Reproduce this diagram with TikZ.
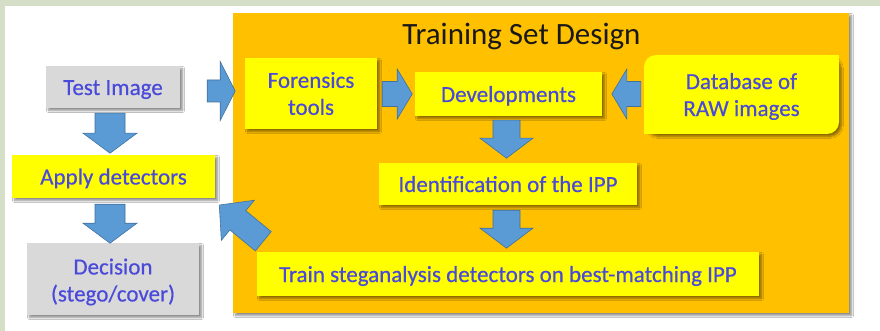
\documentclass[tikz,border=0pt]{standalone}
\usepackage{fontspec}
\setmainfont{Carlito}
\newfontfamily\labelfont[FakeBold=0.5]{Carlito}
\usetikzlibrary{shadows.blur,calc}

\definecolor{framegreen}{RGB}{213,223,200}
\definecolor{panelorange}{RGB}{255,192,0}
\definecolor{boxyellow}{RGB}{255,255,0}
\definecolor{boxgray}{RGB}{217,217,217}
\definecolor{labelblue}{RGB}{74,74,218}
\definecolor{arrowfill}{RGB}{91,155,213}
\definecolor{arrowedge}{RGB}{65,113,156}

\begin{document}
\begin{tikzpicture}[x=1pt,y=-1pt,
  softshadow/.style={blur shadow={shadow xshift=2.5pt,shadow yshift=-2.5pt,
      shadow blur radius=2pt,shadow blur steps=6,shadow opacity=45}},
  labeltext/.style={text=labelblue,font=\labelfont\fontsize{23}{27}\selectfont,
      align=center,inner sep=0pt},
  stepbox/.style={fill=boxyellow,softshadow,labeltext},
  oneline/.style={text height=16pt,text depth=0pt},
  graybox/.style={stepbox,fill=boxgray},
  titletext/.style={font=\fontsize{31}{36}\selectfont,inner sep=0pt},
  % block arrow along the local x axis: length / shaft width / head width / head length
  pics/blockarrow/.style args={#1/#2/#3/#4}{code={
      \filldraw[fill=arrowfill,draw=arrowedge,line width=0.6pt,line join=miter]
        (0,-#2/2) -- ({#1-#4},-#2/2) -- ({#1-#4},-#3/2) -- (#1,0)
        -- ({#1-#4},#3/2) -- ({#1-#4},#2/2) -- (0,#2/2) -- cycle;}}
]
% outer frame and white sheet
\fill[framegreen] (0,0) rectangle (880,331);
\fill[white] (5,6) rectangle (880,331);
\useasboundingbox (0,0) rectangle (880,331);

% training set design panel
\node[fill=panelorange,softshadow,minimum width=616pt,minimum height=300pt,inner sep=0pt]
  (design) at (541,163) {};
\node[titletext,text=black!90] (title) at (521.5,37) {Training Set Design};

% boxes
\node[graybox,oneline,minimum width=134pt,minimum height=42pt] (test) at (113,87) {Test Image};
\node[stepbox,oneline,minimum width=203pt,minimum height=43pt] (apply) at (113.5,176.5) {Apply detectors};
\node[graybox,minimum width=172pt,minimum height=72pt] (decision) at (113,279) {};
\node[labeltext] at ($(decision.center)+(0,3)$) {Decision\\(stego/cover)};
\node[stepbox,minimum width=132pt,minimum height=71pt] (forensics) at (311,93.5) {Forensics\\tools};
\node[stepbox,oneline,minimum width=187pt,minimum height=44pt] (dev) at (508.5,94) {Developments};
\node[stepbox,rounded corners=12pt,minimum width=195pt,minimum height=79pt] (db) at (741.5,94.5) {};
\fill[boxyellow] (db.north east) rectangle +(-12,12);
\fill[boxyellow] (db.south west) rectangle +(12,-12);
\node[labeltext] at ($(db.center)+(0,2)$) {Database of\\RAW images};
\node[stepbox,oneline,minimum width=258pt,minimum height=42pt] (ident) at (508,184) {Identification of the IPP};
\node[stepbox,oneline,minimum width=502pt,minimum height=44pt] (train) at (508,274)
  {Train steganalysis detectors on best-matching IPP};

% block arrows
\pic[rotate=-90] at ($(test.south)+(-3,5)$) {blockarrow=40/30/54/20};
\pic[rotate=-90] at ($(apply.south)+(-3.5,6)$) {blockarrow=39/30/54/20};
\pic at ($(test.east)+(27,4)$) {blockarrow=28/22/59/15};
\pic at ($(forensics.east)+(5,0.5)$) {blockarrow=30/25/50/15};
\pic[rotate=180] at ($(db.west)+(-3,-0.5)$) {blockarrow=29/25/50/15};
\pic[rotate=-90] at ($(dev.south)+(-2,4)$) {blockarrow=38/27/53/20};
\pic[rotate=-90] at ($(ident.south)+(-1.5,5)$) {blockarrow=38/27/53/20};
\pic[rotate=140.5] at ($(train.north west)+(6.5,-10.5)$) {blockarrow=57/25/52/24};
\end{tikzpicture}
\end{document}
